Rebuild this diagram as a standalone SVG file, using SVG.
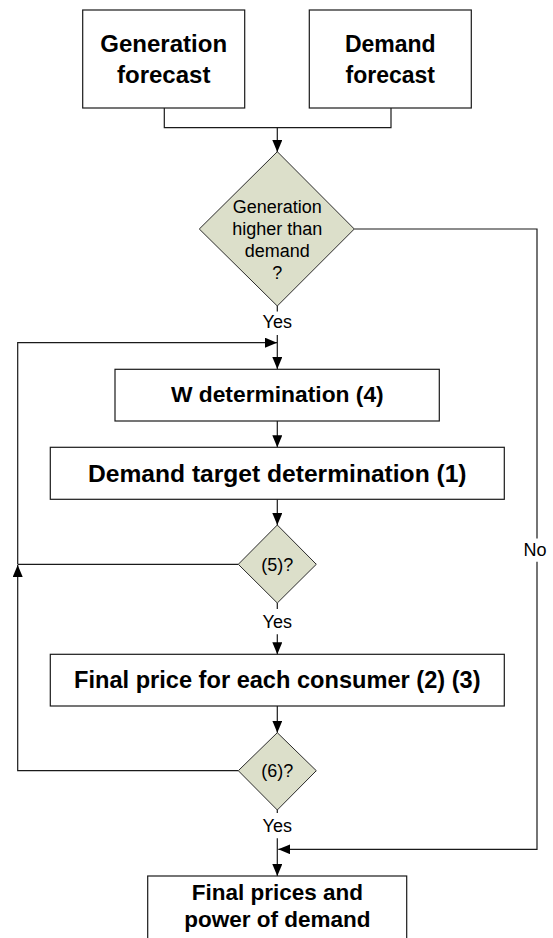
<svg xmlns="http://www.w3.org/2000/svg" width="553" height="938" viewBox="0 0 553 938">
<style>
.box{fill:#fff;stroke:#1a1a1a;stroke-width:1.2}
.dia{fill:#dcdfca;stroke:#2a2a2a;stroke-width:1}
.ln{fill:none;stroke:#1a1a1a;stroke-width:1.2}
.b{font-family:"Liberation Sans",Arial,sans-serif;font-weight:bold;fill:#000;text-anchor:middle}
.r{font-family:"Liberation Sans",Arial,sans-serif;font-size:18px;fill:#000;text-anchor:middle}
</style>
<defs>
<marker id="ah" viewBox="0 0 12 10" refX="12" refY="5" markerWidth="12" markerHeight="10" markerUnits="userSpaceOnUse" orient="auto">
<path d="M0,0 L12,5 L0,10 Z" fill="#000"/>
</marker>
</defs>
<rect width="553" height="938" fill="#fff"/>
<g id="connectors">
<path class="ln" d="M164.3,108 V127.7 H391 V108"/>
<path class="ln" d="M277.3,127.7 V152" marker-end="url(#ah)"/>
<path class="ln" d="M277.3,306 V311.5"/>
<path class="ln" d="M277.3,335 V369" marker-end="url(#ah)"/>
<path class="ln" d="M17.7,564.3 V342.7 H277" marker-end="url(#ah)"/>
<path class="ln" d="M238.3,564.3 H17.7"/>
<path class="ln" d="M277.3,421 V447.3" marker-end="url(#ah)"/>
<path class="ln" d="M277.3,499.3 V525" marker-end="url(#ah)"/>
<path class="ln" d="M277.3,603 V609"/>
<path class="ln" d="M277.3,634.3 V654.3" marker-end="url(#ah)"/>
<path class="ln" d="M277.3,706 V732.7" marker-end="url(#ah)"/>
<path class="ln" d="M238.3,770.7 H17.7 V565" marker-end="url(#ah)"/>
<path class="ln" d="M277.3,810 V813"/>
<path class="ln" d="M277.3,838.3 V876" marker-end="url(#ah)"/>
<path class="ln" d="M354.3,229 H537 V538.5"/>
<path class="ln" d="M537,561.7 V849.3 H278.3" marker-end="url(#ah)"/>
<text class="r" x="277.3" y="328.3">Yes</text>
<text class="r" x="277.3" y="628.3">Yes</text>
<text class="r" x="277.3" y="832.3">Yes</text>
<text class="r" x="535" y="556">No</text>
</g>
<g id="gen">
<rect class="box" x="82.7" y="10" width="162" height="98"/>
<text class="b" font-size="24" x="163.7" y="51.7">Generation</text>
<text class="b" font-size="24" x="163.7" y="82.7">forecast</text>
</g>
<g id="dem">
<rect class="box" x="309.3" y="10" width="162" height="98"/>
<text class="b" font-size="23" x="390.3" y="51.7">Demand</text>
<text class="b" font-size="23" x="390.3" y="82.7">forecast</text>
</g>
<g id="d1">
<polygon class="dia" points="277.3,151.7 354.3,229 277.3,306 199.3,229"/>
<text class="r" x="277.3" y="213.3">Generation</text>
<text class="r" x="277.3" y="235">higher than</text>
<text class="r" x="277.3" y="256.7">demand</text>
<text class="r" x="277.3" y="279">?</text>
</g>
<g id="w">
<rect class="box" x="115" y="369.3" width="324.3" height="51.7"/>
<text class="b" font-size="22.8" x="277.3" y="401.7">W determination (4)</text>
</g>
<g id="target">
<rect class="box" x="50.3" y="447.3" width="454" height="52"/>
<text class="b" font-size="24.6" x="277.3" y="481.5">Demand target determination (1)</text>
</g>
<g id="d5">
<polygon class="dia" points="277.3,525 316.3,564.3 277.3,603 238.3,564.3"/>
<text class="r" x="277.3" y="570.7">(5)?</text>
</g>
<g id="final">
<rect class="box" x="50.3" y="654.3" width="454" height="51.7"/>
<text class="b" font-size="23.6" x="277.3" y="688">Final price for each consumer (2) (3)</text>
</g>
<g id="d6">
<polygon class="dia" points="277.3,732.7 316.3,770.7 277.3,810 238.3,770.7"/>
<text class="r" x="277.3" y="777">(6)?</text>
</g>
<g id="out">
<rect class="box" x="147.7" y="876" width="259" height="80"/>
<text class="b" font-size="22.5" x="277.3" y="900">Final prices and</text>
<text class="b" font-size="22.5" x="277.3" y="926.7">power of demand</text>
</g>
</svg>
